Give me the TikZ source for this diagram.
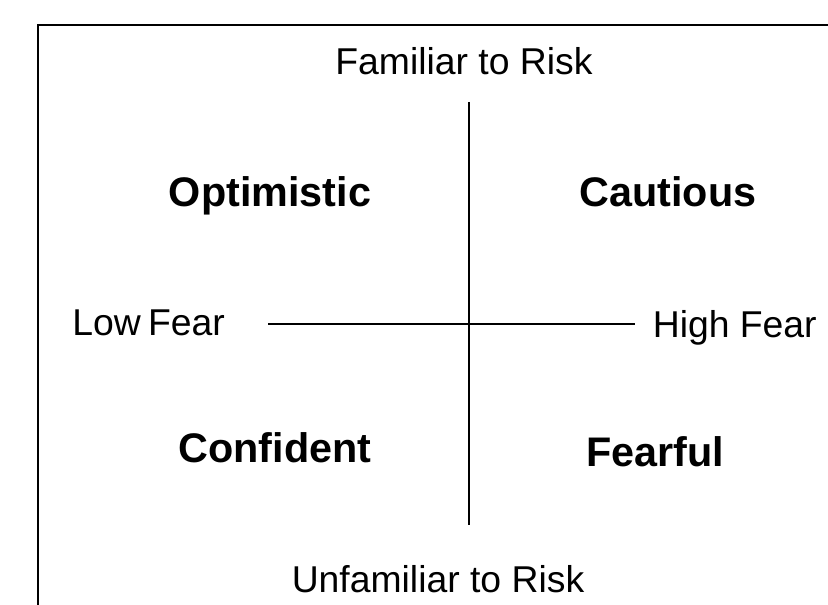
\documentclass[tikz,border=0pt]{standalone}
\usepackage{fontspec}
\setmainfont{Liberation Sans}
\tikzset{
	axislabel/.style={font=\fontsize{28}{33}\selectfont, anchor=base, inner sep=0pt},
	quadlabel/.style={font=\fontsize{31}{37}\selectfont\bfseries, anchor=base, inner sep=0pt},
	axisline/.style={line width=0.9pt},
}

\begin{document}
\begin{tikzpicture}[x=0.75pt, y=-0.75pt]
			%%%%% START %%%%%
			
			\useasboundingbox (0, 0) rectangle (828, 605);
			
			% open frame, runs off the right and bottom
			\draw[line width=1.5pt] (38, 605) -- (38, 25) -- (828, 25);
			
			% axis end points
			\coordinate (top) at (469, 102);
			\coordinate (bottom) at (469, 525);
			\coordinate (left) at (268, 324);
			\coordinate (right) at (635, 324);
			
			\draw[axisline] (top) -- (bottom);
			\draw[axisline] (left) -- (right);
			
			% axis labels
			\node[axislabel] (familiar) at (464, 75) {Familiar to Risk};
			\node[axislabel] (unfamiliar) at (438, 592) {Unfamiliar to Risk};
			\node[axislabel, anchor=base west] (lowfear) at (72, 336) {Low\hspace{0.2em}Fear};
			\node[axislabel, anchor=base east] (highfear) at (817, 338) {High Fear};
			
			% quadrants
			\node[quadlabel] (optimistic) at (270, 207) {Optimistic};
			\node[quadlabel] (cautious) at (668, 207) {Cautious};
			\node[quadlabel] (confident) at (275, 463) {Confident};
			\node[quadlabel] (fearful) at (655, 467) {Fearful};
			
			%%%%% END %%%%%
		\end{tikzpicture}
\end{document}
